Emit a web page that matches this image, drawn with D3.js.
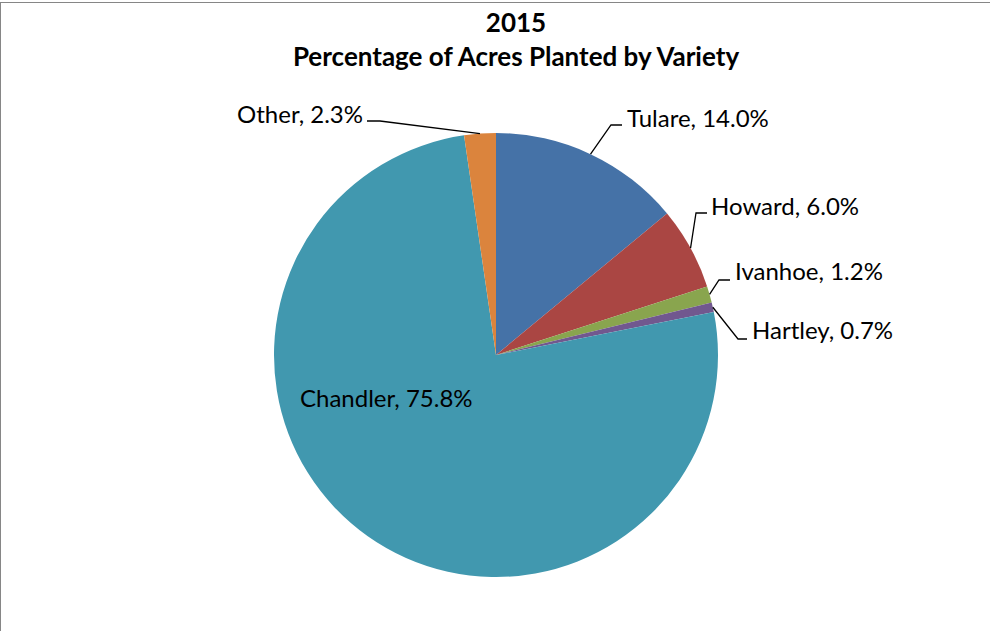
<!DOCTYPE html>
<html>
<head>
<meta charset="utf-8">
<script src="https://cdn.jsdelivr.net/npm/d3@7"></script>
<style>
  body { margin: 0; background: #fff; }
  svg { display: block; font-family: Lato, "Open Sans", sans-serif; }
</style>
</head>
<body>
<div id="chart"></div>
<script>
const varieties = ["Tulare", "Howard", "Ivanhoe", "Hartley", "Chandler", "Other"];
const shares = [14.0, 6.0, 1.2, 0.7, 75.8, 2.3];
const colors = ["#4572A7", "#AA4643", "#89A54E", "#71588F", "#4198AF", "#DB843D"];
const titleLines = ["2015", "Percentage of Acres Planted by Variety"];

// label placement relative to pie centre: elbow point, end of leader, text baseline
const labelLayout = {
  Tulare:   { elbow: [115, -230], end: [126, -230], text: [131, -228], anchor: "start" },
  Howard:   { elbow: [200, -142], end: [211, -142], text: [215, -140], anchor: "start" },
  Ivanhoe:  { elbow: [223, -75], end: [234, -75], text: [239, -75], anchor: "start" },
  Hartley:  { elbow: [242, -16], end: [251, -16], text: [256, -16], anchor: "start" },
  Chandler: { text: [-196, 52], anchor: "start" },
  Other:    { elbow: [-116, -234], end: [-129, -234], text: [-133, -232], anchor: "end" }
};

const width = 990, height = 631;
const cx = 496, cy = 355, radius = 222;

const data = varieties.map((v, i) => ({ name: v, value: shares[i], color: colors[i] }));

const svg = d3.select("#chart")
  .append("svg")
  .attr("width", width)
  .attr("height", height);

// chart area border (cut off on right and bottom)
svg.append("rect")
  .attr("x", 0.5).attr("y", 2.5)
  .attr("width", 1200).attr("height", 800)
  .attr("fill", "none")
  .attr("stroke", "#868686");

svg.append("text")
  .attr("text-anchor", "middle")
  .attr("font-weight", "bold")
  .attr("font-size", 26)
  .attr("fill", "#000")
  .selectAll("tspan")
  .data(titleLines)
  .join("tspan")
  .attr("x", 516)
  .attr("y", (d, i) => 32 + i * 34)
  .text(d => d);

const pie = d3.pie().sort(null).value(d => d.value);
const arc = d3.arc().innerRadius(0).outerRadius(radius);
const edge = d3.arc().innerRadius(radius).outerRadius(radius);

const arcs = pie(data);

const g = svg.append("g").attr("transform", `translate(${cx},${cy})`);

g.selectAll("path")
  .data(arcs)
  .join("path")
  .attr("d", arc)
  .attr("fill", d => d.data.color);

// leader lines
g.selectAll("polyline")
  .data(arcs.filter(d => labelLayout[d.data.name].elbow))
  .join("polyline")
  .attr("fill", "none")
  .attr("stroke", "#000")
  .attr("stroke-width", 1.3)
  .attr("points", d => {
    const l = labelLayout[d.data.name];
    return [edge.centroid(d), l.elbow, l.end].map(p => p.join(",")).join(" ");
  });

g.selectAll("text.label")
  .data(arcs)
  .join("text")
  .attr("class", "label")
  .attr("x", d => labelLayout[d.data.name].text[0])
  .attr("y", d => labelLayout[d.data.name].text[1])
  .attr("text-anchor", d => labelLayout[d.data.name].anchor)
  .attr("font-size", 24)
  .attr("fill", "#000")
  .text(d => `${d.data.name}, ${d3.format(".1f")(d.data.value)}%`);
</script>
</body>
</html>
